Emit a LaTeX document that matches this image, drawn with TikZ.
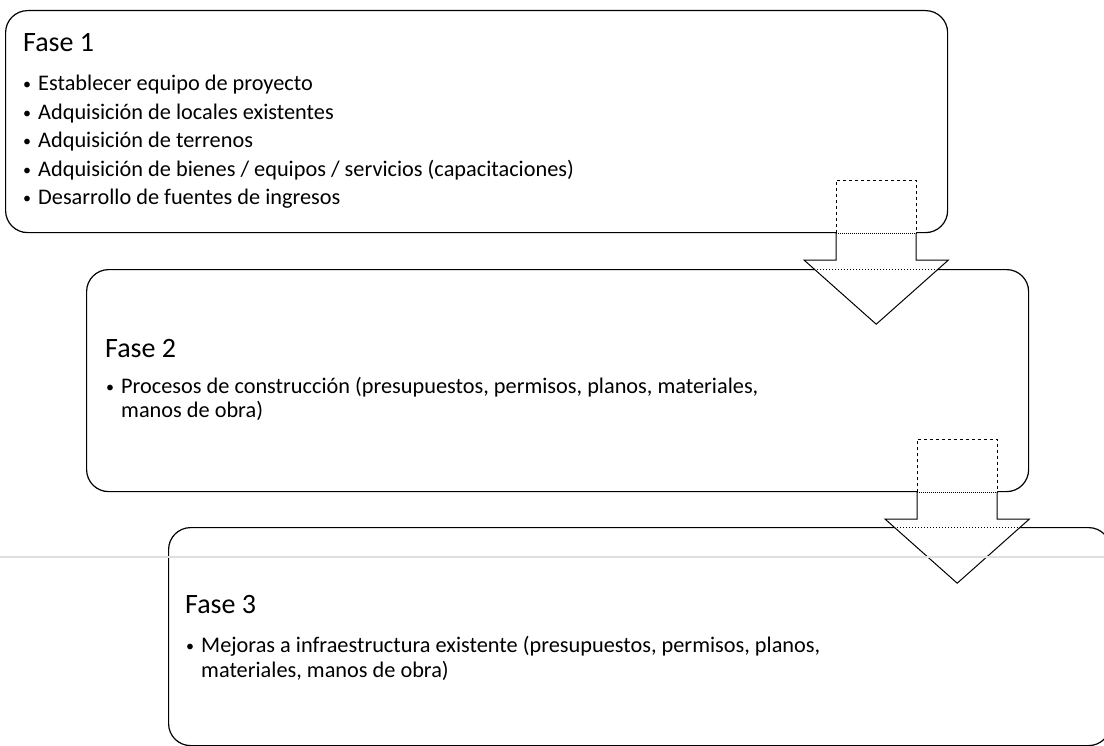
\documentclass[tikz,border=0pt]{standalone}
\usepackage{fontspec}
\setmainfont{Carlito}
\usepackage{tikz}
\usetikzlibrary{positioning, calc}

\newcommand{\bul}{\makebox[15bp][l]{\raisebox{1bp}{\fontsize{16bp}{16bp}\selectfont\textbullet}}}

\tikzset{
  phase/.style={draw, line width=1.2bp, rounded corners=22bp, rectangle,
    minimum width=942bp, minimum height=222bp, inner sep=0pt, anchor=north west},
  head/.style={anchor=base west, inner sep=0pt, font=\fontsize{28bp}{32bp}\selectfont},
  item/.style={anchor=base west, inner sep=0pt, font=\fontsize{22.3bp}{26bp}\selectfont},
}

\begin{document}
\begin{tikzpicture}[x=1bp, y=-1bp, line join=miter]
  \useasboundingbox (0,0) rectangle (1104,746);
  \clip (0,0) rectangle (1104,746);

  % the three phases
  \node[phase] (f1) at (5,10) {};
  \node[phase] (f2) at (86,269) {};
  \node[phase, minimum height=218bp] (f3) at (168,527) {};

  % block arrows from one phase to the next
  \foreach \a/\b in {f1/f2, f2/f3} {
    \coordinate (\a tl) at ($(\a.south east)+(-112,-53)$);
    \coordinate (\a tr) at ($(\a.south east)+(-32,-53)$);
    \coordinate (\a r0) at ($(\a.south east)+(-32,0)$);
    \coordinate (\a rs) at ($(\a.south east)+(-32,27)$);
    \coordinate (\a hr) at ($(\a.south east)+(0,27)$);
    \coordinate (\a tip) at ($(\a.south east)+(-72,91)$);
    \coordinate (\a hl) at ($(\a.south east)+(-144,27)$);
    \coordinate (\a ls) at ($(\a.south east)+(-112,27)$);
    \coordinate (\a l0) at ($(\a.south east)+(-112,0)$);
    \fill[white] (\a tl) -- (\a tr) -- (\a rs) -- (\a hr) -- (\a tip) -- (\a hl) -- (\a ls) -- cycle;
    \draw[densely dotted, line width=1bp] (\a l0) -- (\a r0);
    \draw[dotted, line width=1bp]
      (intersection of \a hl--\a tip and \b.north west--\b.north east) --
      (intersection of \a hr--\a tip and \b.north west--\b.north east);
    \draw[dashed, line width=1bp] (\a l0) -- (\a tl) -- (\a tr) -- (\a r0);
    \draw[line width=1bp] (\a r0) -- (\a rs) -- (\a hr) -- (\a tip) -- (\a hl) -- (\a ls) -- (\a l0);
  }

  % Fase 1
  \node[head] (h1) at (23,52) {Fase 1};
  \node[item] (a1) at (23,91) {\bul Establecer equipo de proyecto};
  \node[item] (a2) at (23,119) {\bul Adquisición de locales existentes};
  \node[item] (a3) at (23,147) {\bul Adquisición de terrenos};
  \node[item] (a4) at (23,176) {\bul Adquisición de bienes / equipos / servicios (capacitaciones)};
  \node[item] (a5) at (23,204) {\bul Desarrollo de fuentes de ingresos};

  % Fase 2
  \node[head] (h2) at (105,357) {Fase 2};
  \node[item] (b1) at (106,393) {\bul Procesos de construcción (presupuestos, permisos, planos, materiales,};
  \node[item] (b2) at (121,417) {manos de obra)};

  % Fase 3
  \node[head] (h3) at (185,613) {Fase 3};
  \node[item] (c1) at (186,652) {\bul Mejoras a infraestructura existente (presupuestos, permisos, planos,};
  \node[item] (c2) at (201,677) {materiales, manos de obra)};

  % faint scan line
  \draw[gray!25, line width=1.5bp] (0,557) -- (1104,557);
\end{tikzpicture}
\end{document}
